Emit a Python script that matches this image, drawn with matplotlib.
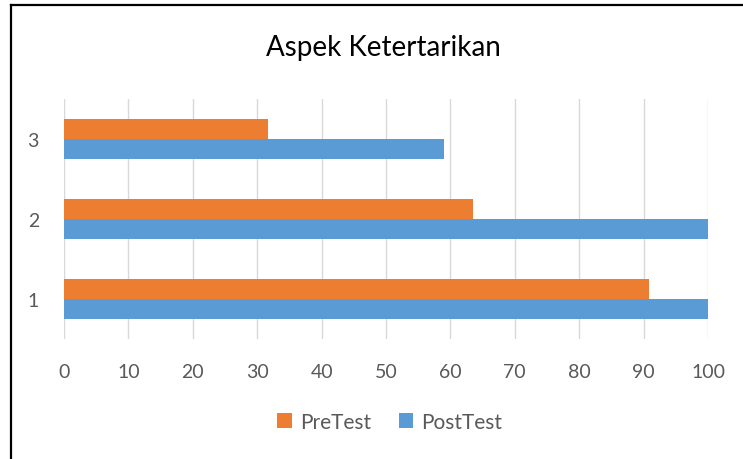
import matplotlib.pyplot as plt
from matplotlib.lines import Line2D

# Data
categories = [1, 2, 3]
pretest = [90.8, 63.5, 31.7]
posttest = [100, 100, 59.0]
xticks = list(range(0, 101, 10))

orange = '#ED7D31'
blue = '#5B9BD5'
grey_text = '#595959'

plt.rcParams['font.family'] = ['Lato', 'DejaVu Sans']

fig = plt.figure(figsize=(7.43, 4.6), dpi=100)
ax = fig.add_axes([64 / 743, 1 - 340 / 460, 644 / 743, 240 / 460])

h = 0.255
ax.barh([c + h / 2 for c in categories], pretest, height=h, color=orange, label='PreTest', zorder=3)
ax.barh([c - h / 2 for c in categories], posttest, height=h, color=blue, label='PostTest', zorder=3)

ax.set_xlim(0, 100)
ax.set_ylim(0.5, 3.5)
ax.set_xticks(xticks)
ax.set_yticks(categories)
ax.grid(axis='x', color='#D9D9D9', linewidth=1, zorder=0)
for s in ax.spines.values():
    s.set_visible(False)
ax.tick_params(length=0, labelsize=14, colors=grey_text, pad=17)
ax.tick_params(axis='y', pad=18)

fig.text(383 / 743, 1 - 48 / 460, 'Aspek Ketertarikan', ha='center', va='center',
         fontsize=20, color='black')

ax.legend(loc='center', bbox_to_anchor=(390 / 743, 1 - 423 / 460), bbox_transform=fig.transFigure,
          ncol=2, frameon=False, fontsize=15, handlelength=0.7, handleheight=0.7,
          handletextpad=0.4, columnspacing=1.3, labelcolor=grey_text)

# frame: only top and left edges show in the crop
fig.add_artist(Line2D([11 / 743, 1], [1 - 6 / 460, 1 - 6 / 460], transform=fig.transFigure,
                      color='black', linewidth=1.6))
fig.add_artist(Line2D([11 / 743, 11 / 743], [0, 1 - 6 / 460], transform=fig.transFigure,
                      color='black', linewidth=1.6))

plt.savefig('out.png', dpi=100)
